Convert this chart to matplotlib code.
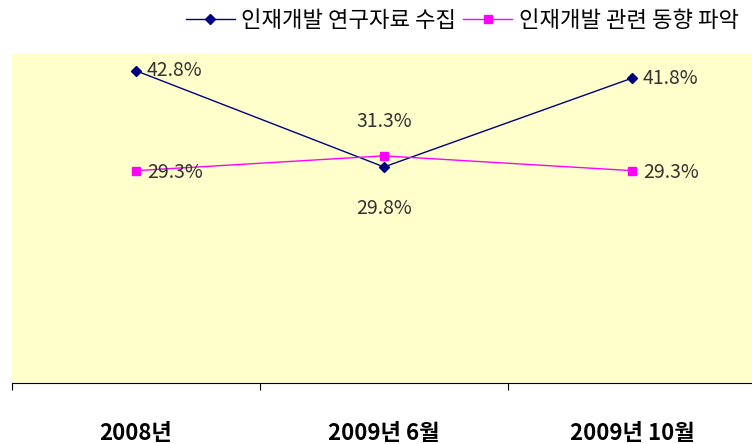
import matplotlib.pyplot as plt

plt.rcParams['font.family'] = ['Noto Sans CJK KR', 'DejaVu Sans']

categories = ['2008년', '2009년 6월', '2009년 10월']
series_names = ['인재개발 연구자료 수집', '인재개발 관련 동향 파악']
collect = [42.8, 29.8, 41.8]
trend = [29.3, 31.3, 29.3]

fig = plt.figure(figsize=(7.52, 4.44), dpi=100)
ax = fig.add_axes([12 / 752, 61 / 444, 744 / 752, 330 / 444])
ax.set_facecolor('#FFFFCC')

x = list(range(len(categories)))
ax.plot(x, collect, color='#000080', lw=1, marker='D', ms=5, label=series_names[0])
ax.plot(x, trend, color='#FF00FF', lw=1, marker='s', ms=6, label=series_names[1])

# data labels
lab = dict(fontsize=14, color='#333333', textcoords='offset points', va='center')
for i, v in enumerate(collect):
    if i == 1:
        ax.annotate(f'{v}%', (i, v), xytext=(0, -30), ha='center', **lab)
    else:
        ax.annotate(f'{v}%', (i, v), xytext=(8, 0), ha='left', **lab)
for i, v in enumerate(trend):
    if i == 1:
        ax.annotate(f'{v}%', (i, v), xytext=(0, 25), ha='center', **lab)
    else:
        ax.annotate(f'{v}%', (i, v), xytext=(8, -1), ha='left', **lab)

ax.set_xlim(-0.5, 2.5)
ax.set_ylim(0.6, 45.2)
ax.set_yticks([])
for s in ['left', 'right', 'top']:
    ax.spines[s].set_visible(False)
ax.spines['bottom'].set_color('black')

ax.set_xticks([-0.5, 0.5, 1.5, 2.5])
ax.set_xticklabels([])
ax.tick_params(axis='x', which='major', length=5, direction='out', color='black')
ax.set_xticks(x, minor=True)
ax.set_xticklabels(categories, minor=True, fontsize=16, fontweight='bold')
ax.tick_params(axis='x', which='minor', length=0, pad=28)

fig.legend(loc='upper right', bbox_to_anchor=(1.0, 1.01), ncol=2, frameon=False,
           fontsize=16, handlelength=2.2, columnspacing=0.3, handletextpad=0.3,
           borderaxespad=0.2)

fig.savefig('out.png', dpi=100, facecolor='white')
